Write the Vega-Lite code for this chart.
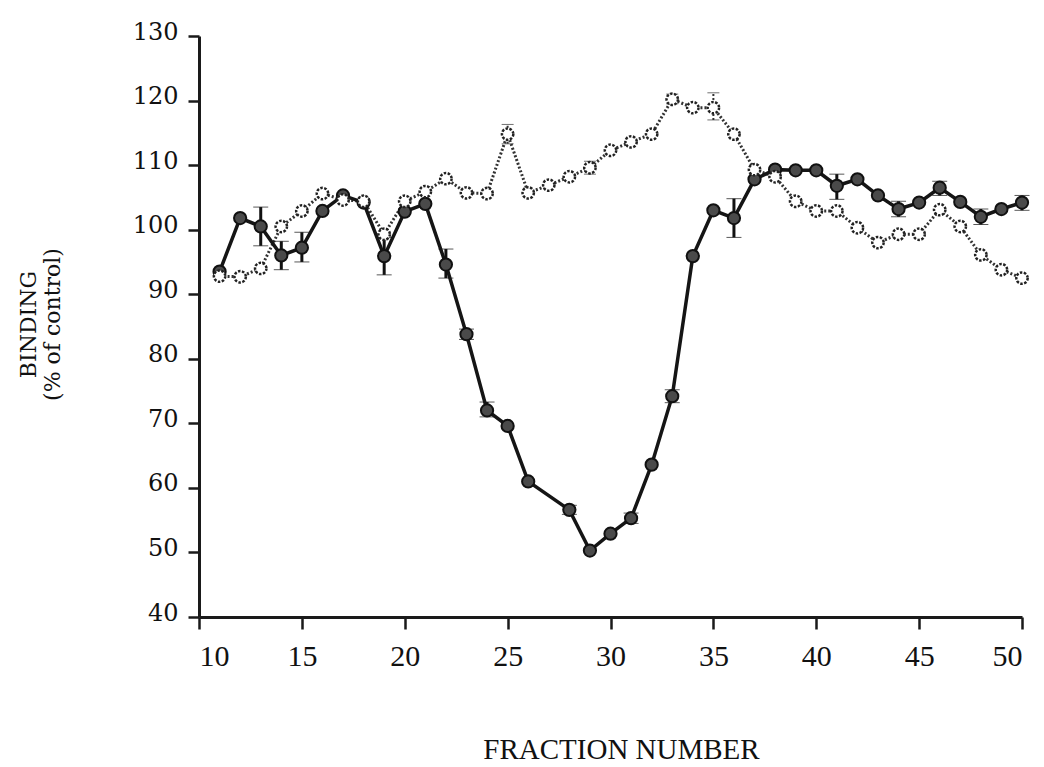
{
  "$schema": "https://vega.github.io/schema/vega-lite/v6.json",
  "autosize": "none",
  "width": 823,
  "height": 581,
  "padding": {"left": 199, "top": 36, "right": 22, "bottom": 150},
  "background": "white",
  "config": {
    "view": {"stroke": null},
    "font": "Liberation Serif",
    "axis": {
      "grid": false,
      "domainColor": "#1a1a1a",
      "domainWidth": 3,
      "tickColor": "#1a1a1a",
      "tickWidth": 2.5,
      "labelColor": "#111",
      "titleColor": "#111",
      "titleFontWeight": "normal"
    }
  },
  "datasets": {
    "pts": [
      {"x": 11, "s": "filled", "v": 93.5},
      {"x": 12, "s": "filled", "v": 101.8},
      {"x": 13, "s": "filled", "v": 100.5, "lo": 97.5, "hi": 103.5},
      {"x": 14, "s": "filled", "v": 96, "lo": 93.8, "hi": 98.2},
      {"x": 15, "s": "filled", "v": 97.2, "lo": 95, "hi": 99.6},
      {"x": 16, "s": "filled", "v": 102.9},
      {"x": 17, "s": "filled", "v": 105.3},
      {"x": 18, "s": "filled", "v": 104.2},
      {"x": 19, "s": "filled", "v": 95.9, "lo": 93, "hi": 98.8},
      {"x": 20, "s": "filled", "v": 102.8},
      {"x": 21, "s": "filled", "v": 104},
      {"x": 22, "s": "filled", "v": 94.6, "lo": 92.5, "hi": 97},
      {"x": 23, "s": "filled", "v": 83.8, "lo": 83, "hi": 84.6},
      {"x": 24, "s": "filled", "v": 72, "lo": 71, "hi": 73.3},
      {"x": 25, "s": "filled", "v": 69.6},
      {"x": 26, "s": "filled", "v": 61},
      {"x": 28, "s": "filled", "v": 56.6, "lo": 55.9, "hi": 57.3},
      {"x": 29, "s": "filled", "v": 50.3},
      {"x": 30, "s": "filled", "v": 52.9},
      {"x": 31, "s": "filled", "v": 55.3, "lo": 54.5, "hi": 56.1},
      {"x": 32, "s": "filled", "v": 63.6},
      {"x": 33, "s": "filled", "v": 74.2, "lo": 73.2, "hi": 75.2},
      {"x": 34, "s": "filled", "v": 95.9},
      {"x": 35, "s": "filled", "v": 103},
      {"x": 36, "s": "filled", "v": 101.8, "lo": 98.8, "hi": 104.8},
      {"x": 37, "s": "filled", "v": 107.8},
      {"x": 38, "s": "filled", "v": 109.3},
      {"x": 39, "s": "filled", "v": 109.2},
      {"x": 40, "s": "filled", "v": 109.2},
      {"x": 41, "s": "filled", "v": 106.8, "lo": 104.7, "hi": 108.6},
      {"x": 42, "s": "filled", "v": 107.8},
      {"x": 43, "s": "filled", "v": 105.3},
      {"x": 44, "s": "filled", "v": 103.2, "lo": 102, "hi": 104.4},
      {"x": 45, "s": "filled", "v": 104.2},
      {"x": 46, "s": "filled", "v": 106.5, "lo": 105.3, "hi": 107.5},
      {"x": 47, "s": "filled", "v": 104.3},
      {"x": 48, "s": "filled", "v": 102, "lo": 100.8, "hi": 103.2},
      {"x": 49, "s": "filled", "v": 103.2},
      {"x": 50, "s": "filled", "v": 104.2, "lo": 103, "hi": 105.3},
      {"x": 11, "s": "open", "v": 92.8},
      {"x": 12, "s": "open", "v": 92.7},
      {"x": 13, "s": "open", "v": 94},
      {"x": 14, "s": "open", "v": 100.5},
      {"x": 15, "s": "open", "v": 102.9},
      {"x": 16, "s": "open", "v": 105.6},
      {"x": 17, "s": "open", "v": 104.6},
      {"x": 18, "s": "open", "v": 104.4},
      {"x": 19, "s": "open", "v": 99.3},
      {"x": 20, "s": "open", "v": 104.4},
      {"x": 21, "s": "open", "v": 105.9},
      {"x": 22, "s": "open", "v": 107.9},
      {"x": 23, "s": "open", "v": 105.7},
      {"x": 24, "s": "open", "v": 105.6},
      {"x": 25, "s": "open", "v": 114.8, "lo": 113.3, "hi": 116.3},
      {"x": 26, "s": "open", "v": 105.7},
      {"x": 27, "s": "open", "v": 106.9},
      {"x": 28, "s": "open", "v": 108.2},
      {"x": 29, "s": "open", "v": 109.6, "lo": 108.6, "hi": 110.6},
      {"x": 30, "s": "open", "v": 112.3},
      {"x": 31, "s": "open", "v": 113.6},
      {"x": 32, "s": "open", "v": 114.8},
      {"x": 33, "s": "open", "v": 120.2, "lo": 119.5, "hi": 121},
      {"x": 34, "s": "open", "v": 118.9},
      {"x": 35, "s": "open", "v": 118.9, "lo": 117, "hi": 121.2},
      {"x": 36, "s": "open", "v": 114.8},
      {"x": 37, "s": "open", "v": 109.3},
      {"x": 38, "s": "open", "v": 108.2},
      {"x": 39, "s": "open", "v": 104.4},
      {"x": 40, "s": "open", "v": 102.9},
      {"x": 41, "s": "open", "v": 102.9},
      {"x": 42, "s": "open", "v": 100.3},
      {"x": 43, "s": "open", "v": 98},
      {"x": 44, "s": "open", "v": 99.3},
      {"x": 45, "s": "open", "v": 99.3},
      {"x": 46, "s": "open", "v": 103.1},
      {"x": 47, "s": "open", "v": 100.5},
      {"x": 48, "s": "open", "v": 96.1},
      {"x": 49, "s": "open", "v": 93.8},
      {"x": 50, "s": "open", "v": 92.5}
    ]
  },
  "data": {"name": "pts"},
  "encoding": {
    "x": {
      "field": "x",
      "type": "quantitative",
      "scale": {"domain": [10, 50], "nice": false, "zero": false},
      "axis": {
        "values": [10, 15, 20, 25, 30, 35, 40, 45, 50],
        "tickSize": 12,
        "labelFont": "Liberation Serif",
        "labelFontSize": 30,
        "labelPadding": 12,
        "title": "FRACTION NUMBER",
        "titleFont": "Liberation Serif",
        "titleFontSize": 29,
        "titleX": 422,
        "titleY": 132,
        "titleAnchor": null,
        "titleAlign": "center",
        "titleBaseline": "middle"
      }
    },
    "y": {
      "field": "v",
      "type": "quantitative",
      "scale": {"domain": [40, 130], "nice": false, "zero": false},
      "axis": {
        "values": [40, 50, 60, 70, 80, 90, 100, 110, 120, 130],
        "tickSize": 11,
        "labelFont": "DejaVu Serif",
        "labelFontSize": 24,
        "labelPadding": 10,
        "labelBaseline": "alphabetic",
        "labelOffset": 3,
        "title": ["BINDING", "(% of control)"],
        "titleFont": "DejaVu Serif",
        "titleFontSize": 22,
        "titleLineHeight": 24,
        "titleAngle": -90,
        "titleX": -171,
        "titleY": 288,
        "titleAlign": "center",
        "titleBaseline": "middle"
      }
    }
  },
  "layer": [
    {
      "transform": [{"filter": "datum.s == 'open' && isValid(datum.lo)"}],
      "mark": {"type": "errorbar", "ticks": {"size": 12, "color": "#333", "strokeWidth": 2}, "rule": {"color": "#333", "strokeWidth": 2, "strokeDash": [2, 2]}},
      "encoding": {
        "y": {"field": "lo", "type": "quantitative"},
        "y2": {"field": "hi"}
      }
    },
    {
      "transform": [{"filter": "datum.s == 'open'"}],
      "mark": {"type": "line", "color": "#333", "strokeWidth": 3, "strokeDash": [2, 2]},
      "encoding": {}
    },
    {
      "transform": [{"filter": "datum.s == 'filled' && isValid(datum.lo)"}],
      "mark": {"type": "errorbar", "ticks": {"size": 15, "color": "#111", "strokeWidth": 3}, "rule": {"color": "#111", "strokeWidth": 3}},
      "encoding": {
        "y": {"field": "lo", "type": "quantitative"},
        "y2": {"field": "hi"}
      }
    },
    {
      "transform": [{"filter": "datum.s == 'filled'"}],
      "mark": {"type": "line", "color": "#151515", "strokeWidth": 3.5},
      "encoding": {}
    },
    {
      "transform": [{"filter": "datum.s == 'filled'"}],
      "mark": {"type": "point", "shape": "circle", "filled": true, "fill": "#4a4a4a", "stroke": "#111", "strokeWidth": 2, "size": 150, "opacity": 1}
    },
    {
      "transform": [{"filter": "datum.s == 'open'"}],
      "mark": {"type": "point", "shape": "circle", "filled": false, "fill": "white", "fillOpacity": 1, "stroke": "#222", "strokeWidth": 2.5, "strokeDash": [2.5, 1.5], "size": 130, "opacity": 1}
    }
  ]
}
